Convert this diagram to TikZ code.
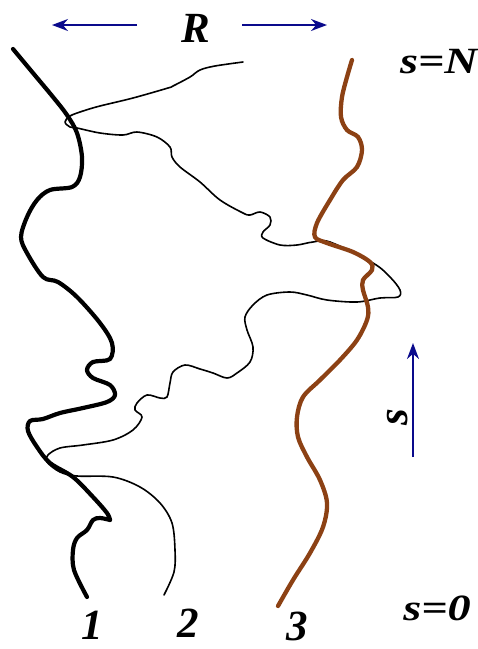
\documentclass[tikz,border=0pt]{standalone}
\usepackage{fontspec}
\setmainfont{Liberation Serif}
\usetikzlibrary{arrows.meta}
\definecolor{chainbrown}{RGB}{140,65,20}
\definecolor{arrowblue}{RGB}{10,10,140}
\begin{document}
\begin{tikzpicture}[
    x=1pt, y=-1pt,
    >={Stealth[length=16pt, width=12pt]},
    font=\bfseries\itshape,
    thickchain/.style={line width=4.2pt, line cap=round, line join=round},
    thinchain/.style={line width=1.6pt, line cap=round, line join=round},
    brownchain/.style={line width=4.3pt, color=chainbrown, line cap=round},
    line/.style={->, line width=1.8pt, color=arrowblue},
    biglabel/.style={font=\bfseries\itshape\fontsize{43}{48}\selectfont, inner sep=0pt},
    toplabel/.style={font=\bfseries\itshape\fontsize{37}{42}\selectfont, inner sep=0pt, xscale=1.25}
    ]
\useasboundingbox (0,0) rectangle (478,649);

% Chain 1 (thick black)
\draw[thickchain] plot[smooth, tension=0.55] coordinates {
    (13,49) (33,73) (53,97) (67,115) (77,133) (82,157) (80,177) (72,187)
    (50,190) (37,200) (27,217) (21,237) (27,253) (43,277) (58,282)
    (77,297) (100,323) (112,343) (110,359) (93,362) (87,370) (93,378)
    (110,385) (115,395) (107,402) (83,408) (60,413) (43,419) (30,421)
    (28,431) (37,447) (50,463) (73,477) (93,497) (107,513) (110,520)}
  plot[smooth, tension=0.55] coordinates {
    (110,520) (100,518) (93,520) (87,530) (77,538) (73,550) (74,570) (87,597)};

% Chain 2 (thin black)
\draw[thinchain] plot[smooth, tension=0.55] coordinates {
    (243,62) (215,66) (200,70) (190,77) (173,86) (168,88) (133,98)
    (100,106) (83,111) (70,116) (65,122) (70,127) (77,128) (100,133)
    (123,135) (137,132) (157,137) (170,147) (172,157) (180,167) (200,182)
    (220,200) (243,213) (250,215) (260,212) (270,217) (270,225) (263,232)
    (263,238) (280,245) (297,245) (313,242) (330,242) (373,263) (390,277)
    (400,290) (398,297) (380,298) (357,302) (327,300) (307,295) (290,292)
    (267,295) (253,305) (245,317) (247,330) (253,347) (250,362) (237,373)
    (227,378) (213,373) (200,369) (185,365) (173,372) (170,383) (167,397)
    (160,398) (147,395) (137,403) (135,410) (142,417) (133,430) (113,440)
    (83,445) (60,448) (48,455) (47,462) (60,472) (77,476) (113,477)
    (140,487) (160,503) (172,523) (175,550) (174,572) (164,595)};

% Chain 3 (brown)
\draw[brownchain] plot[smooth, tension=0.55] coordinates {
    (352,60) (347,77) (342,97) (341,117) (347,130) (358,137) (362,150)
    (357,167) (343,180) (330,200) (317,223) (315,237) (327,243) (353,252)
    (370,262) (372,270) (363,280) (363,290) (368,307) (367,320) (357,340)
    (340,360) (320,380) (303,397) (297,417) (298,437) (307,457) (320,480)
    (327,503) (323,527) (310,553) (293,580) (278,606)};

% Labels
\node[biglabel] (R) at (196,28) {R};
\node[toplabel] (top) at (439,62) {s=N};
\node[toplabel] (bottom) at (437,608) {s=0};
\node[biglabel] (one) at (92,625) {1};
\node[biglabel] (two) at (188,623) {2};
\node[biglabel] (three) at (297,626) {3};
\node[biglabel, rotate=90] (s) at (398,417) {s};

% Blue arrows
\coordinate (Rleftstart) at (137,25);
\coordinate (Rleftend) at (52,25);
\coordinate (Rrightstart) at (242,25);
\coordinate (Rrightend) at (327,25);
\coordinate (sbase) at (413,457);
\coordinate (stip) at (413,343);
\draw[line] (Rleftstart) -- (Rleftend);
\draw[line] (Rrightstart) -- (Rrightend);
\draw[line] (sbase) -- (stip);

\end{tikzpicture}
\end{document}
